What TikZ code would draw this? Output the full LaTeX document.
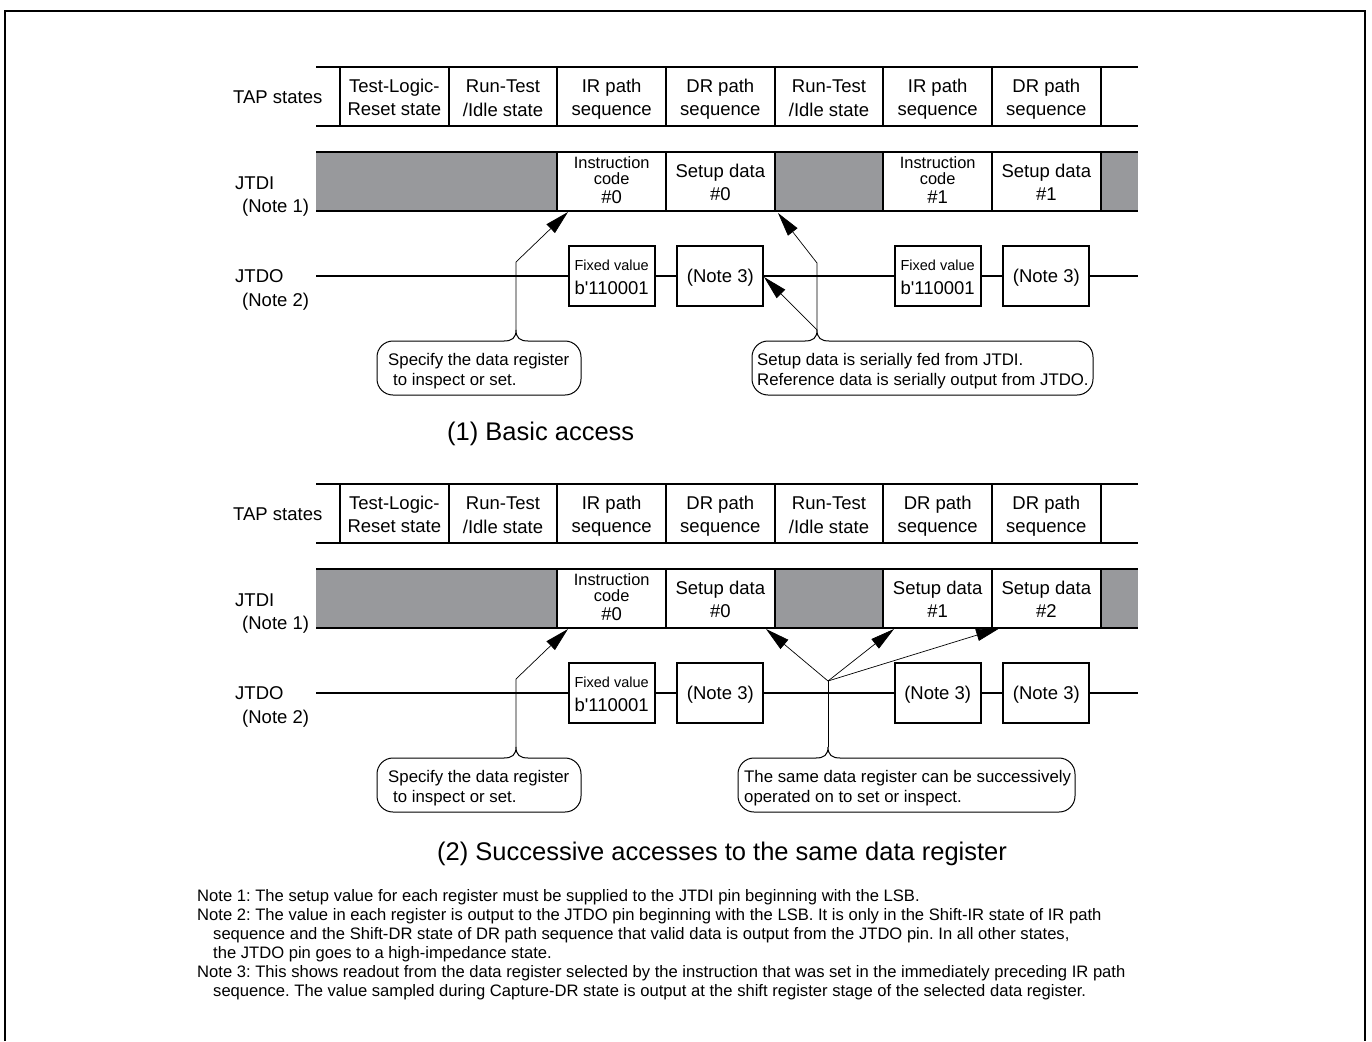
\documentclass[tikz,border=0pt]{standalone}
\usepackage{fontspec}
\setmainfont{Liberation Sans}
\usetikzlibrary{arrows.meta}
\definecolor{gfill}{RGB}{152,153,156}
\frenchspacing
\tikzset{
 lbl/.style={inner sep=0pt, text height=13.3pt, text depth=0pt, font=\fontsize{18.5}{22}\selectfont},
 sml/.style={inner sep=0pt, text height=11.7pt, text depth=0pt, font=\fontsize{16.4}{18}\selectfont},
 fxv/.style={inner sep=0pt, text height=10.4pt, text depth=0pt, font=\fontsize{14.5}{17}\selectfont},
 cal/.style={inner sep=0pt, text height=12pt, text depth=0pt, font=\fontsize{16.8}{20}\selectfont, anchor=west},
 ttl/.style={inner sep=0pt, text height=18.3pt, text depth=0pt, font=\fontsize{25.5}{30}\selectfont, anchor=west},
 nts/.style={inner sep=0pt, text height=11.9pt, text depth=0pt, font=\fontsize{16.6}{19}\selectfont, anchor=west},
 thk/.style={line width=1.8pt},
 obox/.style={draw, line width=1.8pt, minimum width=86pt, minimum height=60pt, inner sep=0pt},
 arr/.style={line width=0.7pt, -{Triangle[length=24pt,width=12pt]}},
 thn/.style={line width=0.7pt},
 callout/.style={line width=1pt, rounded corners=16pt},
 brace/.style={line width=1pt},
}
\begin{document}
\begin{tikzpicture}[x=1pt,y=-1pt]
\useasboundingbox (0,0) rectangle (1372,1041);
% frame
\draw[line width=1.2pt] (5,1041) -- (5,11) -- (1365,11) -- (1365,1041);

% ================= Diagram 1 =================
% TAP row
\draw[thk] (316,67) -- (1138,67);
\draw[thk] (316,126) -- (1138,126);
\foreach \x in {340,448.67,557.33,666,774.67,883.33,992,1100.67} \draw[thk] (\x,67) -- (\x,126);
\node[lbl,anchor=west] (tapA) at (233,97) {TAP states};
\node[lbl] (a1u) at (394.33,86) {Test-Logic-};
\node[lbl] (a1l) at (394.33,109) {Reset state};
\node[lbl] (a2u) at (503,86) {Run-Test};
\node[lbl] (a2l) at (503,110) {/Idle state};
\node[lbl] (a3u) at (611.67,86) {IR path};
\node[lbl] (a3l) at (611.67,109) {sequence};
\node[lbl] (a4u) at (720.33,86) {DR path};
\node[lbl] (a4l) at (720.33,109) {sequence};
\node[lbl] (a5u) at (829,86) {Run-Test};
\node[lbl] (a5l) at (829,110) {/Idle state};
\node[lbl] (a6u) at (937.67,86) {IR path};
\node[lbl] (a6l) at (937.67,109) {sequence};
\node[lbl] (a7u) at (1046.33,86) {DR path};
\node[lbl] (a7l) at (1046.33,109) {sequence};
% JTDI row
\fill[gfill] (316,152) rectangle (557.33,211);
\fill[gfill] (774.67,152) rectangle (883.33,211);
\fill[gfill] (1100.67,152) rectangle (1138,211);
\draw[thk] (316,152) -- (1138,152);
\draw[thk] (316,211) -- (1138,211);
\foreach \x in {557.33,666,774.67,883.33,992,1100.67} \draw[thk] (\x,152) -- (\x,211);
\node[lbl,anchor=west] (jdiA) at (235,183) {JTDI};
\node[lbl,anchor=west] (jdiAn) at (242,206) {(Note 1)};
\node[sml] (ia1) at (611.67,163) {Instruction};
\node[sml] (ia2) at (611.67,179) {code};
\node[lbl] (ia3) at (611.67,197) {\#0};
\node[lbl] (sa1) at (720.33,171) {Setup data};
\node[lbl] (sa2) at (720.33,194) {\#0};
\node[sml] (ib1) at (937.67,163) {Instruction};
\node[sml] (ib2) at (937.67,179) {code};
\node[lbl] (ib3) at (937.67,197) {\#1};
\node[lbl] (sb1) at (1046.33,171) {Setup data};
\node[lbl] (sb2) at (1046.33,194) {\#1};
% JTDO row
\node[lbl,anchor=west] (jdoA) at (235,276) {JTDO};
\node[lbl,anchor=west] (jdoAn) at (242,300) {(Note 2)};
\node[obox] (fvA) at (611.67,276) {};
\node[obox] (nA1) at (720.33,276) {};
\node[obox] (fvB) at (937.67,276) {};
\node[obox] (nA2) at (1046.33,276) {};
\coordinate (jlA) at (316,276);
\coordinate (jrA) at (1138,276);
\draw[thk] (jlA) -- (fvA);
\draw[thk] (fvA) -- (nA1);
\draw[thk] (nA1) -- (fvB);
\draw[thk] (fvB) -- (nA2);
\draw[thk] (nA2) -- (jrA);
\node[fxv] (fvAt) at (611.67,265) {Fixed value};
\node[lbl] (fvAb) at (611.67,288) {b\textquotesingle110001};
\node[lbl] (nA1t) at (720.33,276) {(Note 3)};
\node[fxv] (fvBt) at (937.67,265) {Fixed value};
\node[lbl] (fvBb) at (937.67,288) {b\textquotesingle110001};
\node[lbl] (nA2t) at (1046.33,276) {(Note 3)};
% arrows
\coordinate (bpA1) at (516,330);
\coordinate (kA1) at (516,262);
\coordinate (tpA1) at (568,212);
\draw[arr] (bpA1) -- (kA1) -- (tpA1);
\coordinate (bpA2) at (817,330);
\coordinate (kA2) at (817,263);
\coordinate (tpA2) at (778,213);
\coordinate (tpA3) at (764,277);
\draw[arr] (bpA2) -- (kA2) -- (tpA2);
\draw[arr] (bpA2) -- (tpA3);
% callouts
\draw[callout] (528,341) -- (581,341) -- (581,395) -- (377,395) -- (377,341) -- (504,341);
\draw[brace] (504,341) .. controls (512,341) and (516,338) .. (bpA1) .. controls (516,338) and (520,341) .. (528,341);
\node[cal] (cA1) at (388,359) {Specify the data register};
\node[cal] (cA2) at (393,379) {to inspect or set.};
\draw[callout] (829,341) -- (1093,341) -- (1093,395) -- (752,395) -- (752,341) -- (805,341);
\draw[brace] (805,341) .. controls (813,341) and (817,338) .. (bpA2) .. controls (817,338) and (821,341) .. (829,341);
\node[cal] (cB1) at (757,359) {Setup data is serially fed from JTDI.};
\node[cal] (cB2) at (757,379) {Reference data is serially output from JTDO.};
\node[ttl] (tt1) at (447,431) {(1) Basic access};

% ================= Diagram 2 =================
\draw[thk] (316,484) -- (1138,484);
\draw[thk] (316,543) -- (1138,543);
\foreach \x in {340,448.67,557.33,666,774.67,883.33,992,1100.67} \draw[thk] (\x,484) -- (\x,543);
\node[lbl,anchor=west] (tapB) at (233,514) {TAP states};
\node[lbl] (b1u) at (394.33,503) {Test-Logic-};
\node[lbl] (b1l) at (394.33,526) {Reset state};
\node[lbl] (b2u) at (503,503) {Run-Test};
\node[lbl] (b2l) at (503,527) {/Idle state};
\node[lbl] (b3u) at (611.67,503) {IR path};
\node[lbl] (b3l) at (611.67,526) {sequence};
\node[lbl] (b4u) at (720.33,503) {DR path};
\node[lbl] (b4l) at (720.33,526) {sequence};
\node[lbl] (b5u) at (829,503) {Run-Test};
\node[lbl] (b5l) at (829,527) {/Idle state};
\node[lbl] (b6u) at (937.67,503) {DR path};
\node[lbl] (b6l) at (937.67,526) {sequence};
\node[lbl] (b7u) at (1046.33,503) {DR path};
\node[lbl] (b7l) at (1046.33,526) {sequence};
% JTDI row
\fill[gfill] (316,569) rectangle (557.33,628);
\fill[gfill] (774.67,569) rectangle (883.33,628);
\fill[gfill] (1100.67,569) rectangle (1138,628);
\draw[thk] (316,569) -- (1138,569);
\draw[thk] (316,628) -- (1138,628);
\foreach \x in {557.33,666,774.67,883.33,992,1100.67} \draw[thk] (\x,569) -- (\x,628);
\node[lbl,anchor=west] (jdiB) at (235,600) {JTDI};
\node[lbl,anchor=west] (jdiBn) at (242,623) {(Note 1)};
\node[sml] (ic1) at (611.67,580) {Instruction};
\node[sml] (ic2) at (611.67,596) {code};
\node[lbl] (ic3) at (611.67,614) {\#0};
\node[lbl] (sc1) at (720.33,588) {Setup data};
\node[lbl] (sc2) at (720.33,611) {\#0};
\node[lbl] (sd1) at (937.67,588) {Setup data};
\node[lbl] (sd2) at (937.67,611) {\#1};
\node[lbl] (se1) at (1046.33,588) {Setup data};
\node[lbl] (se2) at (1046.33,611) {\#2};
% JTDO row
\node[lbl,anchor=west] (jdoB) at (235,693) {JTDO};
\node[lbl,anchor=west] (jdoBn) at (242,717) {(Note 2)};
\node[obox] (fvC) at (611.67,693) {};
\node[obox] (nB1) at (720.33,693) {};
\node[obox] (nB2) at (937.67,693) {};
\node[obox] (nB3) at (1046.33,693) {};
\coordinate (jlB) at (316,693);
\coordinate (jrB) at (1138,693);
\draw[thk] (jlB) -- (fvC);
\draw[thk] (fvC) -- (nB1);
\draw[thk] (nB1) -- (nB2);
\draw[thk] (nB2) -- (nB3);
\draw[thk] (nB3) -- (jrB);
\node[fxv] (fvCt) at (611.67,682) {Fixed value};
\node[lbl] (fvCb) at (611.67,705) {b\textquotesingle110001};
\node[lbl] (nB1t) at (720.33,693) {(Note 3)};
\node[lbl] (nB2t) at (937.67,693) {(Note 3)};
\node[lbl] (nB3t) at (1046.33,693) {(Note 3)};
% arrows
\coordinate (bpB1) at (516,747);
\coordinate (kB1) at (516,679);
\coordinate (tpB1) at (568,629);
\draw[arr] (bpB1) -- (kB1) -- (tpB1);
\coordinate (bpB2) at (828,747);
\coordinate (jB) at (828,681);
\coordinate (tpB2) at (766,629);
\coordinate (tpB3) at (894,629);
\coordinate (tpB4) at (1000,628);
\draw[thn] (bpB2) -- (jB);
\draw[arr] (jB) -- (tpB2);
\draw[arr] (jB) -- (tpB3);
\draw[arr] (jB) -- (tpB4);
% callouts
\draw[callout] (528,758) -- (581,758) -- (581,812) -- (377,812) -- (377,758) -- (504,758);
\draw[brace] (504,758) .. controls (512,758) and (516,755) .. (bpB1) .. controls (516,755) and (520,758) .. (528,758);
\node[cal] (cC1) at (388,776) {Specify the data register};
\node[cal] (cC2) at (393,796) {to inspect or set.};
\draw[callout] (840,758) -- (1075,758) -- (1075,812) -- (738,812) -- (738,758) -- (816,758);
\draw[brace] (816,758) .. controls (824,758) and (828,755) .. (bpB2) .. controls (828,755) and (832,758) .. (840,758);
\node[cal] (cD1) at (744,776) {The same data register can be successively};
\node[cal] (cD2) at (744,796) {operated on to set or inspect.};
\node[ttl] (tt2) at (437,851) {(2) Successive accesses to the same data register};

% ================= Notes =================
\node[nts] (n1) at (197,896) {Note 1: The setup value for each register must be supplied to the JTDI pin beginning with the LSB.};
\node[nts] (n2) at (197,915) {Note 2: The value in each register is output to the JTDO pin beginning with the LSB. It is only in the Shift-IR state of IR path};
\node[nts] (n2b) at (213,934) {sequence and the Shift-DR state of DR path sequence that valid data is output from the JTDO pin. In all other states,};
\node[nts] (n2c) at (213,953) {the JTDO pin goes to a high-impedance state.};
\node[nts] (n3) at (197,972) {Note 3: This shows readout from the data register selected by the instruction that was set in the immediately preceding IR path};
\node[nts] (n3b) at (213,991) {sequence. The value sampled during Capture-DR state is output at the shift register stage of the selected data register.};
\end{tikzpicture}
\end{document}
